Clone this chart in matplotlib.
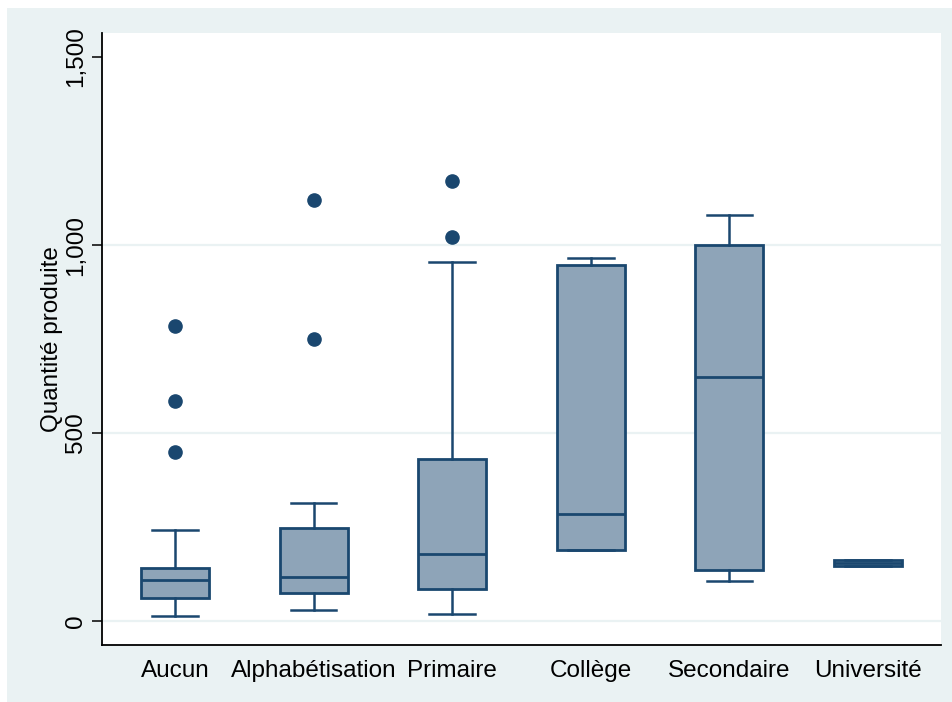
import matplotlib
matplotlib.use("Agg")
import matplotlib.pyplot as plt
from matplotlib.patches import Rectangle
from matplotlib.ticker import FuncFormatter

categories = ["Aucun", "Alphabétisation", "Primaire", "Collège", "Secondaire", "Université"]
whislo = [14, 29, 19, 188, 106, 147]
q1 = [61, 75, 86, 188, 137, 147]
med = [108, 118, 178, 285, 648, 155]
q3 = [142, 247, 431, 946, 1000, 162]
whishi = [243, 314, 955, 966, 1080, 162]
outliers = [[449, 584, 785], [750, 1120], [1021, 1170], [], [], []]

yticks = [0, 500, 1000, 1500]
ylabel = "Quantité produite"

navy = "#1A476F"
fillc = "#8EA4B8"
bg = "#EAF2F3"

plt.rcParams['font.family'] = ['Liberation Sans', 'DejaVu Sans']
fs = 17.5

fig = plt.figure(figsize=(9.52, 7.02), dpi=100)
fig.patch.set_facecolor("white")
rect = Rectangle((7/952, 0), 1 - 7/952, (702 - 8)/702, transform=fig.transFigure,
                 facecolor=bg, edgecolor="none", zorder=-10)
fig.add_artist(rect)

ax = fig.add_axes([102/952, 1 - 645/702, (941 - 102)/952, (645 - 33)/702])
ax.set_zorder(1)
ax.set_facecolor("white")

stats = []
for i, c in enumerate(categories):
    stats.append(dict(label=c, whislo=whislo[i], q1=q1[i], med=med[i], q3=q3[i],
                      whishi=whishi[i], fliers=outliers[i]))

ax.bxp(stats, positions=range(len(categories)), widths=0.49, patch_artist=True,
       showfliers=True,
       boxprops=dict(facecolor=fillc, edgecolor=navy, linewidth=2.0),
       medianprops=dict(color=navy, linewidth=2.0),
       whiskerprops=dict(color=navy, linewidth=1.8),
       capprops=dict(color=navy, linewidth=1.8),
       capwidths=0.33,
       flierprops=dict(marker="o", markerfacecolor=navy, markeredgecolor=navy,
                       markersize=9.5, linestyle="none"),
       zorder=3)

ax.set_xlim(-0.526, len(categories) - 1 + 0.526)
ax.set_ylim(-63.8, 1564)
ax.set_yticks(yticks)
ax.yaxis.set_major_formatter(FuncFormatter(lambda v, p: f"{int(v):,}"))
for t in yticks[:-1]:
    ax.axhline(t, color=bg, linewidth=1.6, zorder=1)

ax.spines["top"].set_visible(False)
ax.spines["right"].set_visible(False)
for s in ("left", "bottom"):
    ax.spines[s].set_color("black")
    ax.spines[s].set_linewidth(1.3)

ax.tick_params(axis="y", length=7, width=1.1, labelsize=fs, pad=4, color="black")
ax.tick_params(axis="x", length=0, labelsize=fs, pad=10.5)
for lab in ax.get_yticklabels():
    lab.set_rotation(90)
    lab.set_va("center")
ax.set_ylabel(ylabel, fontsize=fs, labelpad=1)

fig.savefig("out.png", dpi=100, facecolor=fig.get_facecolor())
